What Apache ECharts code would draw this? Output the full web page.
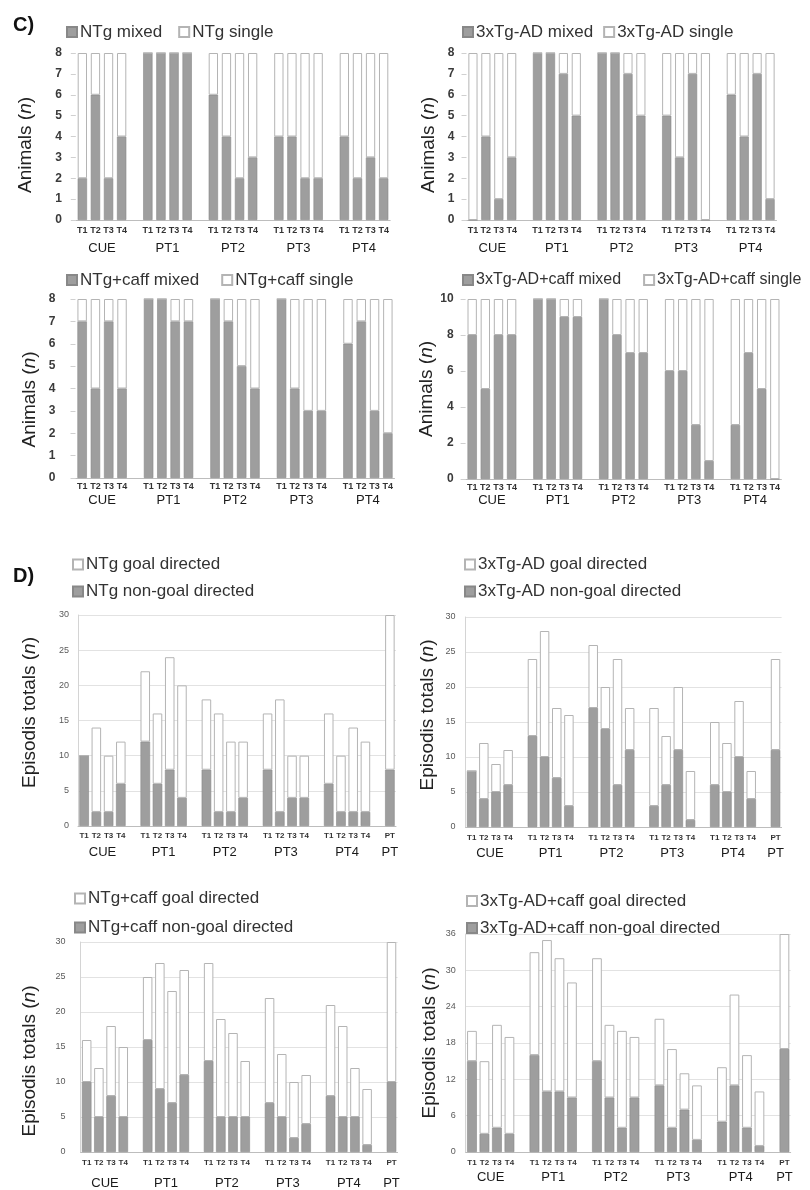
<!DOCTYPE html>
<html>
<head>
<meta charset="utf-8">
<script src="https://cdn.jsdelivr.net/npm/echarts@6/dist/echarts.min.js"></script>
<style>
html,body{margin:0;padding:0;background:#fff;}
#chart{width:810px;height:1190px;}
</style>
</head>
<body>
<div id="chart"></div>
<script>
// ---------- categories / tick labels ----------
const C_TICKS = ['T1','T2','T3','T4'];
const C_GROUPS = ['CUE','PT1','PT2','PT3','PT4'];
const D_GROUPS = ['CUE','PT1','PT2','PT3','PT4','PT'];
const D_PT_TICKS = ['PT'];

// ---------- panel C : animals (n) ----------
const ntgMixed      = [[2,6,2,4],[8,8,8,8],[6,4,2,3],[4,4,2,2],[4,2,3,2]];
const ntgSingle     = [[6,2,6,4],[0,0,0,0],[2,4,6,5],[4,4,6,6],[4,6,5,6]];
const adMixed       = [[0,4,1,3],[8,8,7,5],[8,8,7,5],[5,3,7,0],[6,4,7,1]];
const adSingle      = [[8,4,7,5],[0,0,1,3],[0,0,1,3],[3,5,1,8],[2,4,1,7]];
const ntgCaffMixed  = [[7,4,7,4],[8,8,7,7],[8,7,5,4],[8,4,3,3],[6,7,3,2]];
const ntgCaffSingle = [[1,4,1,4],[0,0,1,1],[0,1,3,4],[0,4,5,5],[2,1,5,6]];
const adCaffMixed   = [[8,5,8,8],[10,10,9,9],[10,8,7,7],[6,6,3,1],[3,7,5,0]];
const adCaffSingle  = [[2,5,2,2],[0,0,1,1],[0,2,3,3],[4,4,7,9],[7,3,5,10]];

// ---------- panel D : episodes totals (n) ----------
const ntgNonGoal     = [[10,2,2,6],[12,6,8,4],[8,2,2,4],[8,2,4,4],[6,2,2,2],[8]];
const ntgGoal        = [[0,12,8,6],[10,10,16,16],[10,14,10,8],[8,16,6,6],[10,8,12,10],[22]];
const adNonGoal      = [[8,4,5,6],[13,10,7,3],[17,14,6,11],[3,6,11,1],[6,5,10,4],[11]];
const adGoal         = [[0,8,4,5],[11,18,10,13],[9,6,18,6],[14,7,9,7],[9,7,8,4],[13]];
const ntgCaffNonGoal = [[10,5,8,5],[16,9,7,11],[13,5,5,5],[7,5,2,4],[8,5,5,1],[10]];
const ntgCaffGoal    = [[6,7,10,10],[9,18,16,15],[14,14,12,8],[15,9,8,7],[13,13,7,8],[20]];
const adCaffNonGoal  = [[15,3,4,3],[16,10,10,9],[15,9,4,9],[11,4,7,2],[5,11,4,1],[17]];
const adCaffGoal     = [[5,12,17,16],[17,25,22,19],[17,12,16,10],[11,13,6,9],[9,15,12,9],[19]];

// ---------- helpers ----------
function pad(groups, blank) {
  const out = [];
  groups.forEach((g, i) => { if (i > 0) out.push(blank); out.push(...g); });
  return out;
}
// half-slot positions for group labels (category axis with boundaryGap:false)
function groupAxisData(groups, names) {
  let total = 0;
  const starts = [];
  groups.forEach((g, i) => { if (i > 0) total += 1; starts.push(total); total += g.length; });
  const arr = new Array(2 * total + 1).fill('');
  groups.forEach((g, i) => { arr[2 * starts[i] + g.length] = names[i]; });
  return arr;
}

const cTickGroups = C_GROUPS.map(() => C_TICKS);
const dTickGroups = D_GROUPS.map((g, i) => i < 5 ? C_TICKS : D_PT_TICKS);

const FONT = 'Liberation Sans, Arial, sans-serif';
const GREY = {color:'#9e9e9e', borderColor:'#888888', borderWidth:0.6};
const WHITE = {color:'#ffffff', borderColor:'#b4b4b4', borderWidth:1};

const panels = [
  // C panels
  {type:'C', left:75.8, top:53, width:314.4, height:167, lower:ntgMixed, upper:ntgSingle,
   lowerName:'NTg mixed', upperName:'NTg single', max:8, interval:1, nameGap:41, namePad:[0,17,0,0], labelMargin:14,
   tickMargin:6.5, groupMargin:21.5, legendLeft:66, legendTop:23.5, legendGap:16, legendFont:17},
  {type:'C', left:466.5, top:53, width:310, height:167, lower:adMixed, upper:adSingle,
   lowerName:'3xTg-AD mixed', upperName:'3xTg-AD single', max:8, interval:1, nameGap:28, namePad:[0,17,0,0], labelMargin:12,
   tickMargin:6.5, groupMargin:21.5, legendLeft:462, legendTop:23.5, legendGap:10, legendFont:17},
  {type:'C', left:75.5, top:299, width:319, height:179, lower:ntgCaffMixed, upper:ntgCaffSingle,
   lowerName:'NTg+caff mixed', upperName:'NTg+caff single', max:8, interval:1, nameGap:36, namePad:[0,22,0,0], labelMargin:20,
   tickMargin:4.5, groupMargin:15.5, legendLeft:66, legendTop:271.5, legendGap:22, legendFont:17},
  {type:'C', left:465.6, top:299, width:315.8, height:180, lower:adCaffMixed, upper:adCaffSingle,
   lowerName:'3xTg-AD+caff mixed', upperName:'3xTg-AD+caff single', max:10, interval:2, nameGap:27, namePad:[0,0,0,0], labelMargin:12,
   tickMargin:4, groupMargin:15, legendLeft:462, legendTop:272, legendGap:22, legendFont:16},
  // D panels
  {type:'D', left:78, top:615, width:318, height:211, lower:ntgNonGoal, upper:ntgGoal,
   lowerName:'NTg non-goal directed', upperName:'NTg goal directed', max:30, interval:5, nameGap:39, namePad:[0,0,0,16], labelMargin:9,
   tickMargin:6, groupMargin:20, legendLeft:72, legendTop:556, legendGap:10, legendFont:17},
  {type:'D', left:465.6, top:617, width:316, height:210, lower:adNonGoal, upper:adGoal,
   lowerName:'3xTg-AD non-goal directed', upperName:'3xTg-AD goal directed', max:30, interval:5, nameGap:28, namePad:[0,0,0,14], labelMargin:10,
   tickMargin:7, groupMargin:19.5, legendLeft:464, legendTop:556, legendGap:10, legendFont:17},
  {type:'D', left:80.6, top:942, width:317, height:210, lower:ntgCaffNonGoal, upper:ntgCaffGoal,
   lowerName:'NTg+caff non-goal directed', upperName:'NTg+caff goal directed', max:30, interval:5, nameGap:41, namePad:[0,28,0,0], labelMargin:15,
   tickMargin:7, groupMargin:24.5, legendLeft:74, legendTop:890, legendGap:12, legendFont:17},
  {type:'D', left:465.7, top:934, width:325, height:218, lower:adCaffNonGoal, upper:adCaffGoal,
   lowerName:'3xTg-AD+caff non-goal directed', upperName:'3xTg-AD+caff goal directed', max:36, interval:6, nameGap:26, namePad:[0,0,0,0], labelMargin:10,
   tickMargin:7, groupMargin:18.5, legendLeft:466, legendTop:892.5, legendGap:10, legendFont:17}
];

const option = {
  animation:false,
  backgroundColor:'#ffffff',
  textStyle:{fontFamily:FONT},
  title:[
    {text:'C)', left:8, top:10, textStyle:{fontSize:20, fontWeight:'bold', color:'#111', fontFamily:FONT}},
    {text:'D)', left:8, top:561, textStyle:{fontSize:20, fontWeight:'bold', color:'#111', fontFamily:FONT}}
  ],
  grid:[], xAxis:[], yAxis:[], legend:[], series:[]
};

panels.forEach((p, i) => {
  const isC = p.type === 'C';
  const tickGroups = isC ? cTickGroups : dTickGroups;
  const groupNames = isC ? C_GROUPS : D_GROUPS;
  option.grid.push({left:p.left, top:p.top, width:p.width, height:p.height, containLabel:false});
  option.xAxis.push({
    type:'category', gridIndex:i, data:pad(tickGroups, ''),
    axisLine:{show:true, lineStyle:{color:'#bdbdbd', width:1}},
    axisTick:{show:false},
    axisLabel:{interval:0, fontSize:isC ? 9 : 8, fontWeight:'bold', color:'#333', margin:p.tickMargin, fontFamily:FONT},
    splitLine:{show:false}
  });
  option.xAxis.push({
    type:'category', gridIndex:i, boundaryGap:false, position:'bottom',
    data:groupAxisData(tickGroups, groupNames),
    axisLine:{show:false}, axisTick:{show:false}, splitLine:{show:false},
    axisLabel:{interval:0, fontSize:13, color:'#1a1a1a', margin:p.groupMargin, fontFamily:FONT}
  });
  option.yAxis.push({
    type:'value', gridIndex:i, min:0, max:p.max, interval:p.interval,
    name:isC ? 'Animals ({i|n})' : 'Episodis totals ({i|n})',
    nameLocation:'middle', nameGap:p.nameGap,
    nameTextStyle:{fontSize:19, color:'#222', fontFamily:FONT, padding:p.namePad,
      rich:{i:{fontStyle:'italic', fontSize:19, color:'#222', fontFamily:FONT}}},
    axisLine:{show:!isC, lineStyle:{color:'#d4d4d4'}},
    axisTick:{show:isC, length:5, lineStyle:{color:'#d0d0d0'}},
    axisLabel:isC
      ? {fontSize:12, fontWeight:'bold', color:'#3a3a3a', margin:p.labelMargin, fontFamily:FONT}
      : {fontSize:9, color:'#5a5a5a', margin:p.labelMargin, fontFamily:FONT},
    splitLine:{show:!isC, lineStyle:{color:'#e2e2e2', width:1}}
  });
  const stack = 's' + i;
  option.series.push({
    type:'bar', name:p.lowerName, xAxisIndex:2 * i, yAxisIndex:i, stack:stack,
    data:pad(p.lower, null), barCategoryGap:isC ? '29%' : '22%', itemStyle:GREY
  });
  option.series.push({
    type:'bar', name:p.upperName, xAxisIndex:2 * i, yAxisIndex:i, stack:stack,
    data:pad(p.upper, null), barCategoryGap:isC ? '29%' : '22%', itemStyle:WHITE
  });
  option.legend.push({
    left:p.legendLeft, top:p.legendTop, width:800,
    orient:isC ? 'horizontal' : 'vertical',
    data:isC ? [p.lowerName, p.upperName] : [p.upperName, p.lowerName],
    itemWidth:10, itemHeight:10, itemGap:p.legendGap, icon:'rect', padding:0,
    textStyle:{fontSize:p.legendFont, color:'#333', padding:[0,0,0,-2], fontFamily:FONT},
    selectedMode:false
  });
});

const chart = echarts.init(document.getElementById('chart'), null, {renderer:'canvas', width:810, height:1190});
chart.setOption(option);
</script>
</body>
</html>
